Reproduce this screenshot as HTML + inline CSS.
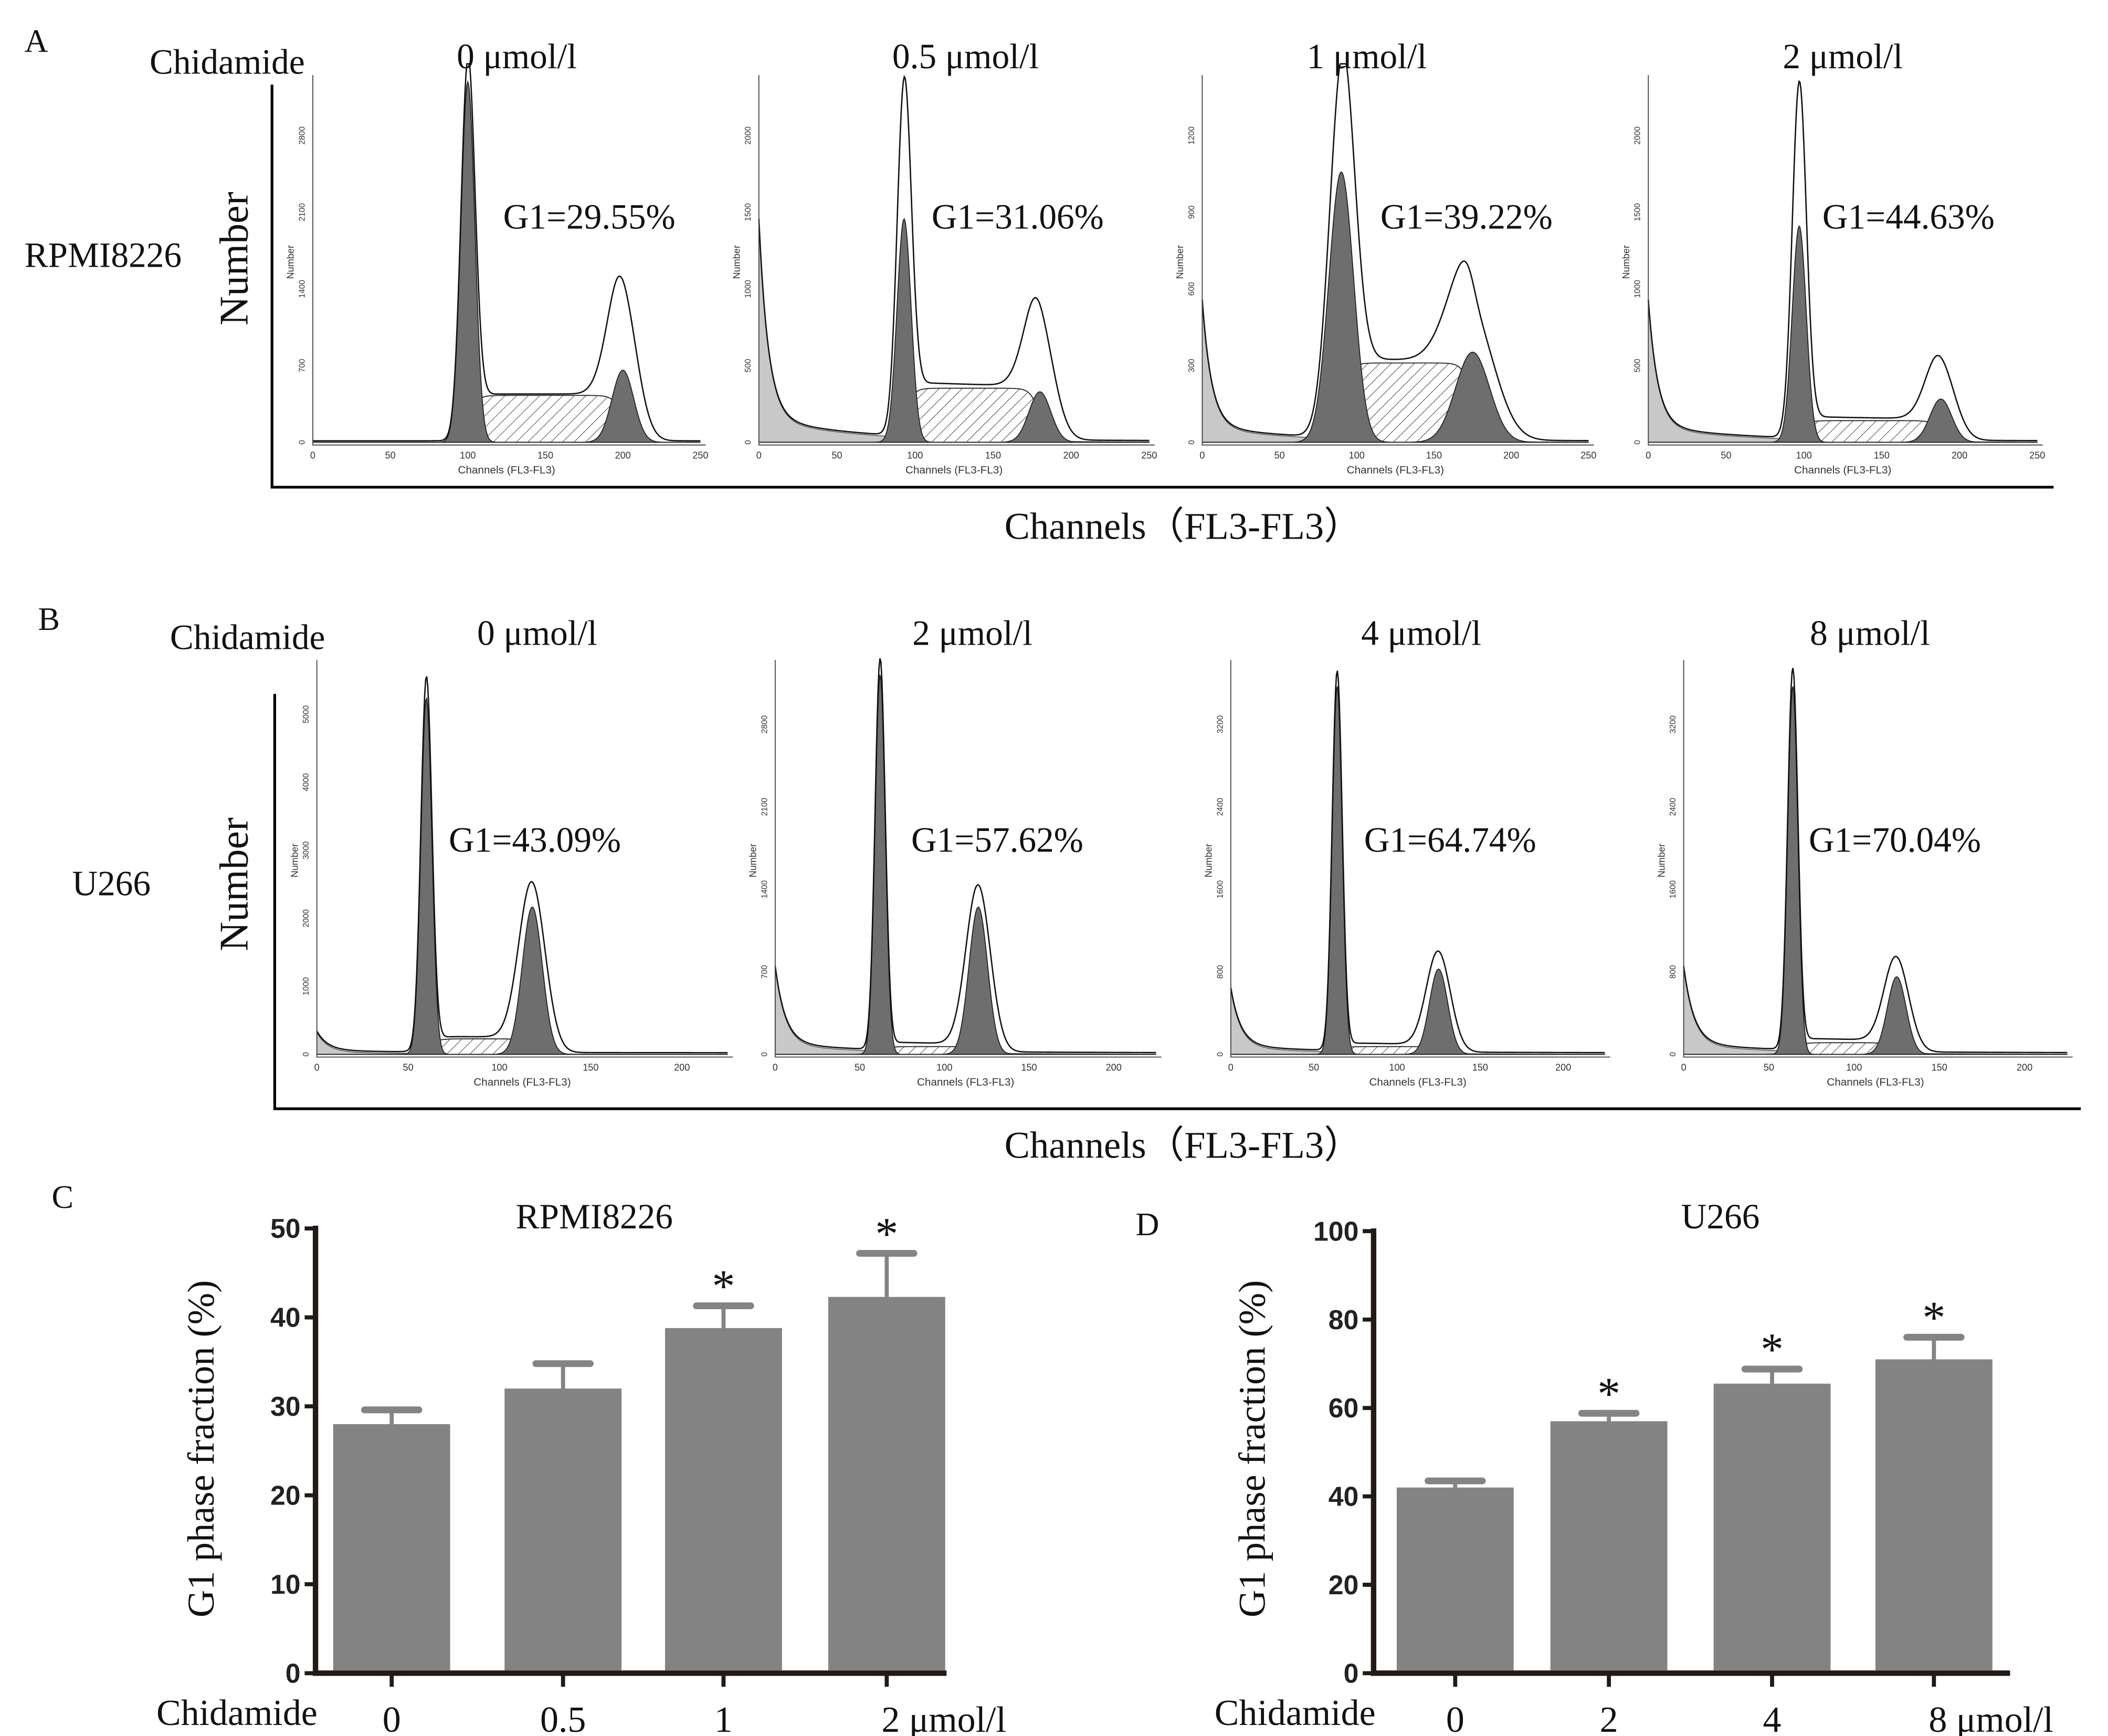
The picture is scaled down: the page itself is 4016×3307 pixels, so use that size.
<!DOCTYPE html>
<html><head><meta charset="utf-8"><style>
html,body{margin:0;padding:0;background:#fff}
svg{display:block}
.s{font-family:"Liberation Serif",serif;fill:#111}
.b{font-family:"Liberation Sans",sans-serif;font-weight:bold;fill:#222}
.t{font-family:"Liberation Sans",sans-serif;fill:#333}
</style></head><body>
<svg id="fig" width="4016" height="3307" viewBox="0 0 1550 1276" xmlns="http://www.w3.org/2000/svg">
<defs>
<pattern id="hatch" patternUnits="userSpaceOnUse" width="6" height="6" patternTransform="rotate(45)">
<rect width="6" height="6" fill="#fff"/><line x1="0" y1="0" x2="0" y2="6" stroke="#333" stroke-width="0.7"/>
</pattern>
</defs>
<g id="root"></g>
</svg>
<script>
// Bar chart data
const cCats = ["0","0.5","1","2 μmol/l"];
const cVals = [28, 32, 38.8, 42.3];
const cErr = [29.6, 34.8, 41.3, 47.2];
const cStar = [false,false,true,true];
const dCats = ["0","2","4","8 μmol/l"];
const dVals = [42, 57, 65.5, 71];
const dErr = [43.5, 58.8, 68.8, 76];
const dStar = [false,true,true,true];
const cTicks = [0,10,20,30,40,50];
const dTicks = [0,20,40,60,80,100];
// Histogram parameters
const aG1 = [100,93,90,97];
const aG1h = [1.0,0.62,0.75,0.6];
const aG1o = [1.0,0.92,0.95,0.96];
const aG2 = [200,180,175,188];
const aG2h = [0.2,0.14,0.25,0.12];
const aG2o = [0.38,0.3,0.33,0.2];
const aS = [0.13,0.15,0.22,0.06];
const aDeb = [0.0,0.55,0.35,0.35];
const aG1Text = ["G1=29.55%","G1=31.06%","G1=39.22%","G1=44.63%"];
const aTitles = ["0 μmol/l","0.5 μmol/l","1 μmol/l","2 μmol/l"];
const aYTicks = [["0","700","1400","2100","2800"],["0","500","1000","1500","2000"],["0","300","600","900","1200"],["0","500","1000","1500","2000"]];
const bG1 = [60,62,64,64];
const bG1h = [0.92,0.98,0.95,0.95];
const bG1o = [0.95,1.0,0.97,0.97];
const bG2 = [118,120,125,125];
const bG2h = [0.38,0.38,0.22,0.2];
const bG2o = [0.42,0.42,0.25,0.23];
const bS = [0.04,0.02,0.02,0.03];
const bDeb = [0.05,0.2,0.15,0.2];
const bG1Text = ["G1=43.09%","G1=57.62%","G1=64.74%","G1=70.04%"];
const bTitles = ["0 μmol/l","2 μmol/l","4 μmol/l","8 μmol/l"];
const bYTicks = [["0","1000","2000","3000","4000","5000"],["0","700","1400","2100","2800"],["0","800","1600","2400","3200"],["0","800","1600","2400","3200"]];

const NS="http://www.w3.org/2000/svg";
const root=document.getElementById('root');
function el(tag,attrs,parent,text){const e=document.createElementNS(NS,tag);for(const k in attrs)e.setAttribute(k,attrs[k]);if(text!==undefined)e.textContent=text;(parent||root).appendChild(e);return e;}
function txt(x,y,s,cls,size,name,anchor,rot){const e=el('text',{x:x,y:y,class:cls,'font-size':size,'text-anchor':anchor||'start'},root,s);


if(rot)e.setAttribute('transform','rotate(-90 '+x+' '+y+')');return e;}

txt(18,38,"A","s",24,"panel-a-label");
txt(110,54,"Chidamide","s",26,"panel-a-chidamide-label");
txt(18,196,"RPMI8226","s",26,"panel-a-cell-line");
txt(182,190,"Number","s",30,"panel-a-y-title","middle",true);
txt(870,396,"Channels（FL3-FL3）","s",28,"panel-a-x-title","middle");
txt(28,463,"B","s",24,"panel-b-label");
txt(125,477,"Chidamide","s",26,"panel-b-chidamide-label");
txt(53,658,"U266","s",26,"panel-b-cell-line");
txt(182,650,"Number","s",30,"panel-b-y-title","middle",true);
txt(870,851,"Channels（FL3-FL3）","s",28,"panel-b-x-title","middle");
let l;
l=el('path',{d:'M200 62 V358 H1510',fill:'none',stroke:'#000','stroke-width':2});

l=el('path',{d:'M202 510 V815 H1530',fill:'none',stroke:'#000','stroke-width':2});


function gauss(x,m,s){return Math.exp(-0.5*((x-m)/s)*((x-m)/s));}
function hist(x0,x1,yb,yt,xmax,tickMax,g1,g1h,g1o,g2,g2h,g2o,S,deb,sd1,sd2,yt_labels,title,titleX,titleY,g1t,g1x,g1y,pname){
  const g=el('g',{});
  
  
  const sx=v=>x0+(v/xmax)*(x1-x0), sy=f=>yb-f*(yb-yt);
  const N=400;const step=xmax/N;
  function path(fn){let d='M'+sx(0)+' '+yb;for(let i=0;i<=N;i++){const v=i*step;d+=' L'+sx(v).toFixed(2)+' '+sy(Math.min(fn(v),1.05)).toFixed(2);}return d+' L'+sx(xmax)+' '+yb+' Z';}
  const debF=v=>deb*Math.exp(-v/6)+deb*0.12*Math.exp(-v/60);
  const sFs=v=>S*(1/(1+Math.exp(-(v-g1)/3)))*(1/(1+Math.exp((v-g2)/3)));
  const p1=el('path',{d:path(debF),fill:'#c8c8c8',stroke:'#555','stroke-width':0.6},g);
  
  const p2=el('path',{d:path(sFs),fill:'url(#hatch)',stroke:'#222','stroke-width':0.7},g);
  
  const p3=el('path',{d:path(v=>g1h*gauss(v,g1,sd1)),fill:'#6e6e6e',stroke:'#222','stroke-width':0.7},g);
  
  const p4=el('path',{d:path(v=>g2h*gauss(v,g2,sd2)),fill:'#6e6e6e',stroke:'#222','stroke-width':0.7},g);
  
  const out=v=>debF(v)+sFs(v)+g1o*gauss(v,g1,sd1)+g2o*gauss(v,g2,sd2*1.3)+0.004;
  let d='';for(let i=0;i<=N;i++){const v=i*step;d+=(i?' L':'M')+sx(v).toFixed(2)+' '+sy(Math.min(out(v),1.05)).toFixed(2);}
  const p5=el('path',{d:d,fill:'none',stroke:'#111','stroke-width':1},g);
  
  const ax=el('path',{d:'M'+x0+' '+(yt-5)+' V'+(yb+2)+' H'+(x1+4),fill:'none',stroke:'#444','stroke-width':0.7},g);
  
  for(let v=0;v<=tickMax;v+=50){const t=el('text',{x:sx(v),y:yb+12,class:'t','font-size':7,'text-anchor':'middle'},g,String(v));
    }
  const cl=el('text',{x:(x0+x1)/2,y:yb+23,class:'t','font-size':8,'text-anchor':'middle'},g,'Channels (FL3-FL3)');
  
  yt_labels.forEach((s,i)=>{const yy=yb-i*(yb-yt)/(yt_labels.length-0.3);const t=el('text',{x:x0-6,y:yy,class:'t','font-size':6,'text-anchor':'middle',transform:'rotate(-90 '+(x0-6)+' '+yy+')'},g,s);
    });
  const nl=el('text',{x:x0-14,y:(yb+yt)/2,class:'t','font-size':7,'text-anchor':'middle',transform:'rotate(-90 '+(x0-14)+' '+(yb+yt)/2+')'},g,'Number');
  
  const tt=el('text',{x:titleX,y:titleY,class:'s','font-size':26,'text-anchor':'middle'},g,title);
  
  const gt=el('text',{x:g1x,y:g1y,class:'s','font-size':26},g,g1t);
  
}
const aX=[[230,515],[558,845],[884,1168],[1212,1498]];
const aTX=[380,710,1005,1355], aGX=[370,685,1015,1340];
for(let i=0;i<4;i++) hist(aX[i][0],aX[i][1],325,60,250,250,aG1[i],aG1h[i],aG1o[i],aG2[i],aG2h[i],aG2o[i],aS[i],aDeb[i],i==2?8:4.5,i==2?11:7,aYTicks[i],aTitles[i],aTX[i],50,aG1Text[i],aGX[i],168,'histogram-a-'+i);
const bX=[[233,535],[570,850],[905,1180],[1238,1520]];
const bTX=[395,715,1045,1375], bGX=[330,670,1003,1330];
for(let i=0;i<4;i++) hist(bX[i][0],bX[i][1],775,490,225,200,bG1[i],bG1h[i],bG1o[i],bG2[i],bG2h[i],bG2o[i],bS[i],bDeb[i],3,5.5,bYTicks[i],bTitles[i],bTX[i],474,bG1Text[i],bGX[i],626,'histogram-b-'+i);

function bars(letter,lx,ly,title,tx,axX,axR,yTop,yBot,ymax,ticks,cats,vals,errs,stars,centers,ytx,chx){
  txt(lx,ly,letter,"s",24,"panel-"+letter.toLowerCase()+"-label");
  txt(tx,903,title,"s",26,"panel-"+letter.toLowerCase()+"-title","middle");
  txt(ytx,1065,"G1 phase fraction (%)","s",28,"panel-"+letter.toLowerCase()+"-y-title","middle",true);
  txt(chx,1268,"Chidamide","s",27,"panel-"+letter.toLowerCase()+"-chidamide-label");
  const sy=v=>yBot-(v/ymax)*(yBot-yTop);
  let a=el('path',{d:'M'+axX+' '+(yTop-2)+' V'+yBot+' H'+axR,fill:'none',stroke:'#231a17','stroke-width':4});
  
  ticks.forEach(t=>{const y=sy(t);let k=el('line',{x1:axX-8,x2:axX,y1:y,y2:y,stroke:'#231a17','stroke-width':3});
    
    txt(axX-11,y+7,String(t),"b",20,"y-tick-label","end");});
  cats.forEach((c,i)=>{const cx=centers[i];
    let e=el('line',{x1:cx,x2:cx,y1:sy(errs[i]),y2:sy(vals[i]),stroke:'#848484','stroke-width':3});
    
    e=el('line',{x1:cx-20,x2:cx+20,y1:sy(errs[i]),y2:sy(errs[i]),stroke:'#848484','stroke-width':5,'stroke-linecap':'round'});
    
    const r=el('rect',{x:cx-43,y:sy(vals[i]),width:86,height:yBot-sy(vals[i])-2,fill:'#838383'});
    
    let k=el('line',{x1:cx,x2:cx,y1:yBot,y2:yBot+10,stroke:'#231a17','stroke-width':3});
    
    const xl=c.indexOf(' ')>0?cx+42:cx;
    txt(xl,1273,c,"s",27,"x-tick-label","middle");
    if(stars[i]) txt(cx,sy(errs[i])-3,"*","s",34,"significance-star","middle");
  });
}
bars("C",38,888,"RPMI8226",437,232,696,903,1230,50,cTicks,cCats,cVals,cErr,cStar,[288,414,532,652],157,115);
bars("D",835,908,"U266",1265,1010,1478,905,1230,100,dTicks,dCats,dVals,dErr,dStar,[1070,1183,1303,1422],930,893);
</script>
</body></html>
